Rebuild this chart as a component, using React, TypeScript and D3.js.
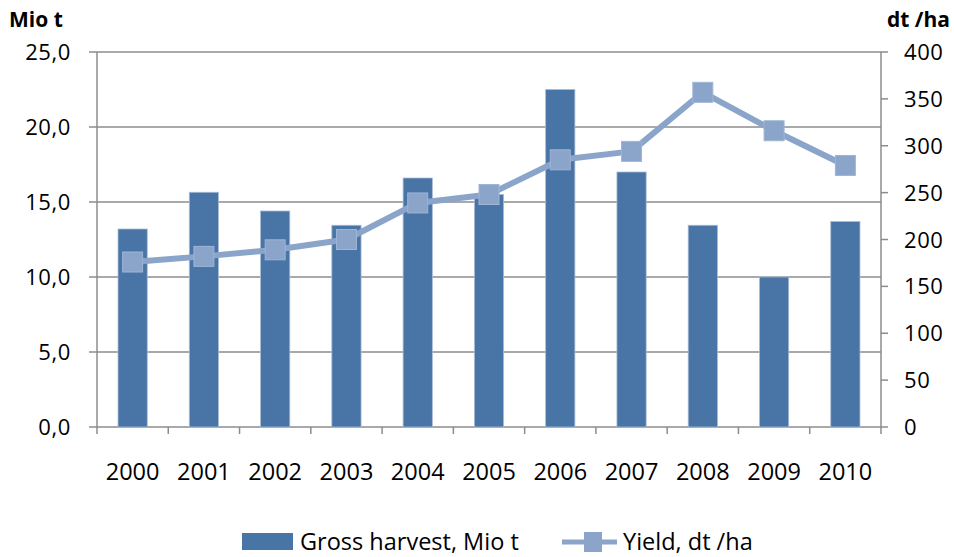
import React from "react";
import * as d3 from "d3";

const years = ["2000","2001","2002","2003","2004","2005","2006","2007","2008","2009","2010"];
const grossHarvest = [13.2, 15.65, 14.4, 13.45, 16.6, 15.5, 22.5, 17.0, 13.45, 10.0, 13.7];
const yieldValues = [176, 182, 189, 200, 239, 248, 285, 294, 357, 316, 279];
const leftTicks = [0, 5, 10, 15, 20, 25];
const rightTicks = [0, 50, 100, 150, 200, 250, 300, 350, 400];

const W = 954, H = 557;
const L = 97, R = 881, T = 52, B = 427;
const BAR = "#4874A6";
const LINE = "#8AA4CA";
const GRID = "#8C8C8C";
const FONT = "'Open Sans', sans-serif";

export default function App() {
  const x = d3.scaleBand().domain(years).range([L, R]).paddingInner(0).paddingOuter(0);
  const yL = d3.scaleLinear().domain([0, 25]).range([B, T]);
  const yR = d3.scaleLinear().domain([0, 400]).range([B, T]);
  const bw = x.bandwidth() * 0.41;
  const cx = (y: string) => (x(y) as number) + x.bandwidth() / 2;
  const line = d3.line<number>().x((_, i) => cx(years[i])).y((v) => yR(v));
  const fmt = (v: number) => v.toFixed(1).replace(".", ",");
  return (
    <svg width={W} height={H} style={{ position: "absolute", left: 0, top: 0, background: "#fff" }} fontFamily={FONT}>
      {leftTicks.map((t) => (
        <line key={"g" + t} x1={L - 8} x2={R} y1={yL(t)} y2={yL(t)} stroke={GRID} strokeWidth={1.5} />
      ))}
      {grossHarvest.map((v, i) => (
        <rect key={"b" + i} x={cx(years[i]) - bw / 2} y={yL(v)} width={bw} height={B - yL(v)} fill={BAR} stroke="#a9bcd6" strokeWidth={0.8} />
      ))}
      <line x1={L} x2={L} y1={T} y2={B} stroke={GRID} strokeWidth={1.5} />
      <line x1={R} x2={R} y1={T} y2={B} stroke={GRID} strokeWidth={1.5} />
      {rightTicks.map((t) => (
        <line key={"rt" + t} x1={R} x2={R + 7} y1={yR(t)} y2={yR(t)} stroke={GRID} strokeWidth={1.5} />
      ))}
      {years.map((y, i) => (
        <line key={"xt" + i} x1={x(y) as number} x2={x(y) as number} y1={B} y2={B + 7} stroke={GRID} strokeWidth={1.5} />
      ))}
      <line x1={R} x2={R} y1={B} y2={B + 7} stroke={GRID} strokeWidth={1.5} />
      <path d={line(yieldValues) || ""} fill="none" stroke={LINE} strokeWidth={6} strokeLinejoin="round" />
      {yieldValues.map((v, i) => (
        <rect key={"m" + i} x={cx(years[i]) - 10} y={yR(v) - 10} width={20} height={20} fill={LINE} stroke="#9fb5d5" strokeWidth={1} />
      ))}
      {leftTicks.map((t) => (
        <text key={"lt" + t} x={71} y={yL(t) + 8} textAnchor="end" fontSize={22} letterSpacing={0.6} fill="#000">{fmt(t)}</text>
      ))}
      {rightTicks.map((t) => (
        <text key={"rl" + t} x={904} y={yR(t) + 8} textAnchor="start" fontSize={22} letterSpacing={0.6} fill="#000">{t}</text>
      ))}
      {years.map((y) => (
        <text key={"xl" + y} x={cx(y)} y={480} textAnchor="middle" fontSize={23.5} fill="#000">{y}</text>
      ))}
      <text x={9} y={27} fontSize={21} fontWeight="bold" fill="#000">Mio t</text>
      <text x={950} y={27} fontSize={21} fontWeight="bold" textAnchor="end" fill="#000">dt /ha</text>
      <rect x={242} y={533} width={51} height={17} fill={BAR} />
      <text x={300} y={550} fontSize={23.5} fill="#000">Gross harvest, Mio t</text>
      <line x1={562} x2={617} y1={542} y2={542} stroke={LINE} strokeWidth={5} />
      <rect x={584} y={532} width={18} height={20} fill={LINE} />
      <text x={623} y={550} fontSize={23.5} fill="#000">Yield, dt /ha</text>
    </svg>
  );
}
